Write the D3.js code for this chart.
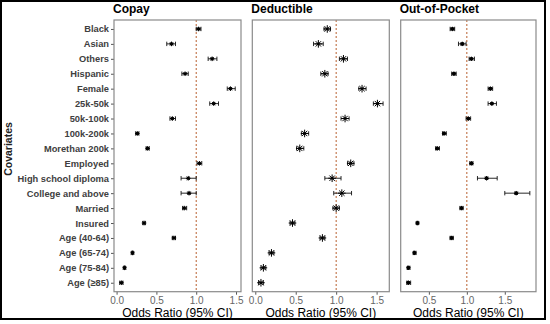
<!DOCTYPE html>
<html>
<head>
<meta charset="utf-8">
<script src="https://cdn.jsdelivr.net/npm/d3@7"></script>
<style>
  body { margin: 0; background: #fff; }
  svg { display: block; font-family: "Liberation Sans", Arial, sans-serif; }
</style>
</head>
<body>
<div id="chart"></div>
<script>
// covariates, top to bottom
var covariates = ["Black", "Asian", "Others", "Hispanic", "Female", "25k-50k", "50k-100k",
  "100k-200k", "Morethan 200k", "Employed", "High school diploma", "College and above",
  "Married", "Insured", "Age (40-64)", "Age (65-74)", "Age (75-84)", "Age (\u226585)"];

// odds ratios and 95% CI
var copayOR   = [1.03, 0.69, 1.20, 0.86, 1.43, 1.22, 0.70, 0.26, 0.39, 1.04, 0.90, 0.91, 0.85, 0.345, 0.72, 0.20, 0.10, 0.06];
var copayLow  = [1.00, 0.63, 1.15, 0.82, 1.39, 1.17, 0.67, 0.24, 0.37, 1.01, 0.81, 0.81, 0.83, 0.33, 0.70, 0.19, 0.09, 0.04];
var copayHigh = [1.06, 0.74, 1.26, 0.90, 1.49, 1.28, 0.74, 0.28, 0.41, 1.07, 1.00, 1.00, 0.88, 0.36, 0.74, 0.21, 0.11, 0.08];

var deductOR   = [0.89, 0.78, 1.09, 0.86, 1.32, 1.51, 1.11, 0.61, 0.55, 1.18, 0.95, 1.07, 1.00, 0.46, 0.83, 0.20, 0.10, 0.07];
var deductLow  = [0.85, 0.72, 1.04, 0.81, 1.28, 1.46, 1.06, 0.57, 0.51, 1.14, 0.86, 0.97, 0.96, 0.43, 0.80, 0.17, 0.07, 0.04];
var deductHigh = [0.93, 0.84, 1.14, 0.90, 1.37, 1.58, 1.16, 0.66, 0.60, 1.22, 1.06, 1.19, 1.04, 0.49, 0.86, 0.23, 0.13, 0.10];

var oopOR   = [0.81, 0.94, 1.06, 0.83, 1.31, 1.33, 1.02, 0.70, 0.61, 1.06, 1.26, 1.65, 0.93, 0.35, 0.80, 0.31, 0.23, 0.23];
var oopLow  = [0.78, 0.89, 1.03, 0.80, 1.28, 1.28, 0.99, 0.68, 0.59, 1.04, 1.14, 1.50, 0.91, 0.34, 0.78, 0.30, 0.22, 0.21];
var oopHigh = [0.84, 0.99, 1.10, 0.86, 1.34, 1.39, 1.05, 0.73, 0.64, 1.08, 1.40, 1.83, 0.95, 0.36, 0.82, 0.33, 0.25, 0.26];

var tickVals = [0, 0.5, 1, 1.5];

var W = 550, H = 324;
var yTop = 20, yBot = 291.7;

var panels = [
  {title: "Copay",         or: copayOR,  lo: copayLow,  hi: copayHigh,  x0: 114,   x1: 241,   star: 2.3, dot: 1.6},
  {title: "Deductible",    or: deductOR, lo: deductLow, hi: deductHigh, x0: 252.3, x1: 389.3, star: 3.8, dot: 1.2},
  {title: "Out-of-Pocket", or: oopOR,    lo: oopLow,    hi: oopHigh,    x0: 400.7, x1: 536,   star: 2.2, dot: 1.9}
];

var svg = d3.select("#chart").append("svg").attr("width", W).attr("height", H);
svg.append("rect").attr("width", W).attr("height", H).attr("fill", "#fff");

var y = d3.scalePoint().domain(covariates).range([yTop, yBot]).padding(0.6);

panels.forEach(function(p, pi){
  var lo = d3.min(p.lo), hi = d3.max(p.hi), pad = (hi - lo) * 0.05;
  var x = d3.scaleLinear().domain([lo - pad, hi + pad]).range([p.x0, p.x1]);
  var g = svg.append("g");

  // title
  g.append("text").attr("x", p.x0 - 1).attr("y", 12.5)
    .attr("font-size", 12).attr("font-weight", "bold").attr("fill", "#000").text(p.title);

  // x axis
  var ax = g.append("g").attr("transform", "translate(0," + yBot + ")")
    .call(d3.axisBottom(x).tickValues(tickVals.filter(function(t){ return t >= x.domain()[0] && t <= x.domain()[1]; }))
      .tickFormat(d3.format(".1f")).tickSize(3).tickPadding(2));
  ax.select(".domain").remove();
  ax.selectAll("line").attr("stroke", "#555");
  ax.selectAll("text").attr("font-size", 10).attr("fill", "#666").attr("font-family", "Liberation Sans, Arial, sans-serif");

  g.append("text").attr("x", (p.x0 + p.x1) / 2).attr("y", 317)
    .attr("text-anchor", "middle").attr("font-size", 12).attr("fill", "#000").text("Odds Ratio (95% CI)");

  // y axis only on the first panel
  if (pi === 0) {
    var ay = g.append("g").attr("transform", "translate(" + p.x0 + ",0)")
      .call(d3.axisLeft(y).tickSize(3).tickPadding(2));
    ay.select(".domain").remove();
    ay.selectAll("line").attr("stroke", "#555");
    ay.selectAll("text").attr("font-size", 9.3).attr("font-weight", "bold").attr("fill", "#404040")
      .attr("font-family", "Liberation Sans, Arial, sans-serif");
  }

  // reference line at OR = 1
  g.append("line").attr("x1", x(1)).attr("x2", x(1)).attr("y1", yTop).attr("y2", yBot)
    .attr("stroke", "#b8602f").attr("stroke-width", 1).attr("stroke-dasharray", "2,2");

  // error bars
  var eb = g.append("g").attr("stroke", "#111").attr("stroke-width", 0.9);
  covariates.forEach(function(c, i){
    var yy = y(c);
    eb.append("line").attr("x1", x(p.lo[i])).attr("x2", x(p.hi[i])).attr("y1", yy).attr("y2", yy);
    eb.append("line").attr("x1", x(p.lo[i])).attr("x2", x(p.lo[i])).attr("y1", yy - 2.2).attr("y2", yy + 2.2);
    eb.append("line").attr("x1", x(p.hi[i])).attr("x2", x(p.hi[i])).attr("y1", yy - 2.2).attr("y2", yy + 2.2);
  });

  // asterisk markers
  var mk = g.append("g").attr("stroke", "#000").attr("stroke-width", 1);
  covariates.forEach(function(c, i){
    var cx = x(p.or[i]), cy = y(c), r = p.star, d = r * 0.707;
    mk.append("path").attr("d",
      "M" + (cx - r) + "," + cy + "H" + (cx + r) +
      "M" + cx + "," + (cy - r) + "V" + (cy + r) +
      "M" + (cx - d) + "," + (cy - d) + "L" + (cx + d) + "," + (cy + d) +
      "M" + (cx - d) + "," + (cy + d) + "L" + (cx + d) + "," + (cy - d));
    mk.append("circle").attr("cx", cx).attr("cy", cy).attr("r", p.dot).attr("fill", "#000").attr("stroke", "none");
  });

  // panel border
  g.append("rect").attr("x", p.x0).attr("y", yTop).attr("width", p.x1 - p.x0).attr("height", yBot - yTop)
    .attr("fill", "none").attr("stroke", "#8a8a8a").attr("stroke-width", 1.2);
});

// y axis title
svg.append("text").attr("transform", "translate(11.5,149) rotate(-90)")
  .attr("text-anchor", "middle").attr("font-size", 10.5).attr("font-weight", "bold").attr("fill", "#222").text("Covariates");

// outer frame
svg.append("rect").attr("x", 1).attr("y", 1).attr("width", 544).attr("height", 318)
  .attr("fill", "none").attr("stroke", "#000").attr("stroke-width", 2);
</script>
</body>
</html>
